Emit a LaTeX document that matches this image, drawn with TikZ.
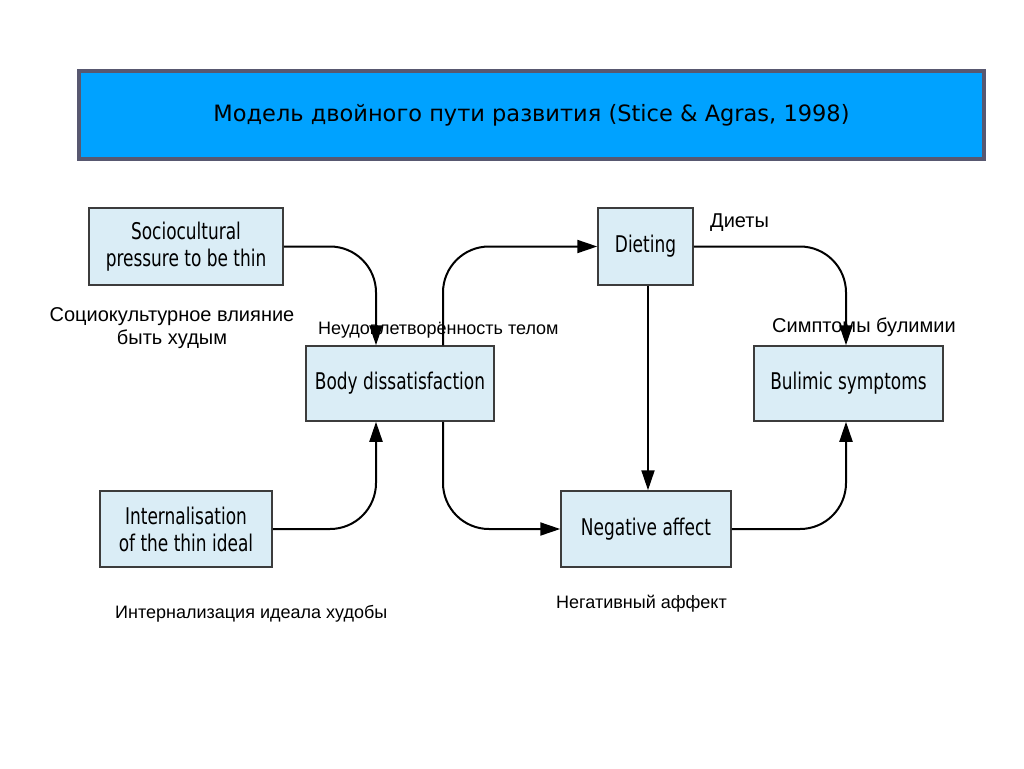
\documentclass[tikz,border=0pt]{standalone}
\usepackage{fontspec}
\setmainfont{Liberation Sans}
\newfontfamily\boxfont[FakeStretch=0.82]{DejaVu Sans Condensed}
\newfontfamily\titlefont{DejaVu Sans}
\usetikzlibrary{arrows.meta}
\definecolor{titleblue}{RGB}{0,162,255}
\definecolor{titleedge}{RGB}{88,88,112}
\definecolor{boxfill}{RGB}{218,237,246}
\definecolor{boxedge}{RGB}{60,60,60}
\tikzset{
  mbox/.style={draw=boxedge, line width=1.5pt, fill=boxfill, inner sep=0pt,
    align=center, font=\boxfont\fontsize{23}{27}\selectfont},
  conn/.style={line width=2pt, rounded corners=46pt,
    -{Triangle[length=20pt,width=13pt]}},
  captext/.style={font=\fontsize{18}{23}\selectfont, inner sep=0pt, align=center},
  bigcap/.style={font=\fontsize{20}{23}\selectfont, inner sep=0pt, align=center}
}
\begin{document}
\begin{tikzpicture}[x=1pt,y=-1pt]
\useasboundingbox (0,0) rectangle (1024,768);
\fill[white] (0,0) rectangle (1024,768);
% title
\node[draw=titleedge, line width=4pt, fill=titleblue, minimum width=905pt, minimum height=88pt, inner sep=0pt,
  font=\titlefont\fontsize{22.5}{26}\selectfont] (title) at (531.5,115) {Модель двойного пути развития (Stice \& Agras, 1998)};
% boxes
\node[mbox, minimum width=194pt, minimum height=77pt] (soc) at (186,246.5) {Sociocultural\\pressure to be thin};
\node[mbox, minimum width=188pt, minimum height=75pt] (body) at (400,383.5) {Body dissatisfaction};
\node[mbox, minimum width=95pt, minimum height=77pt] (diet) at (645.5,246.5) {Dieting};
\node[mbox, minimum width=189pt, minimum height=75pt] (bul) at (848.5,383.5) {Bulimic symptoms};
\node[mbox, minimum width=172pt, minimum height=76pt] (int) at (186,529) {Internalisation\\of the thin ideal};
\node[mbox, minimum width=170pt, minimum height=76pt] (neg) at (646,529) {Negative affect};
% connectors
\draw[conn] (soc.east) -| ([xshift=-24pt]body.north);
\draw[conn] ([xshift=43pt]body.north) |- (diet.west);
\draw[line width=2pt, -{Triangle[length=20pt,width=13pt]}] ([xshift=2.5pt]diet.south) -- ([xshift=2pt]neg.north);
\draw[conn] (diet.east) -| ([xshift=-2.5pt]bul.north);
\draw[conn] (int.east) -| ([xshift=-24pt]body.south);
\draw[conn] ([xshift=43pt]body.south) |- (neg.west);
\draw[conn] (neg.east) -| ([xshift=-2.5pt]bul.south);
% captions
\node[bigcap] (csoc) at (172,328) {Социокультурное влияние\\быть худым};
\node[captext, anchor=west] (cbody) at (318,330) {Неудовлетворённость телом};
\node[bigcap, anchor=west] (cdiet) at (710,223) {Диеты};
\node[bigcap, anchor=west] (cbul) at (772,327) {Симптомы булимии};
\node[captext, anchor=west] (cint) at (115,614) {Интернализация идеала худобы};
\node[captext, anchor=west] (cneg) at (556,604) {Негативный аффект};
\end{tikzpicture}
\end{document}
